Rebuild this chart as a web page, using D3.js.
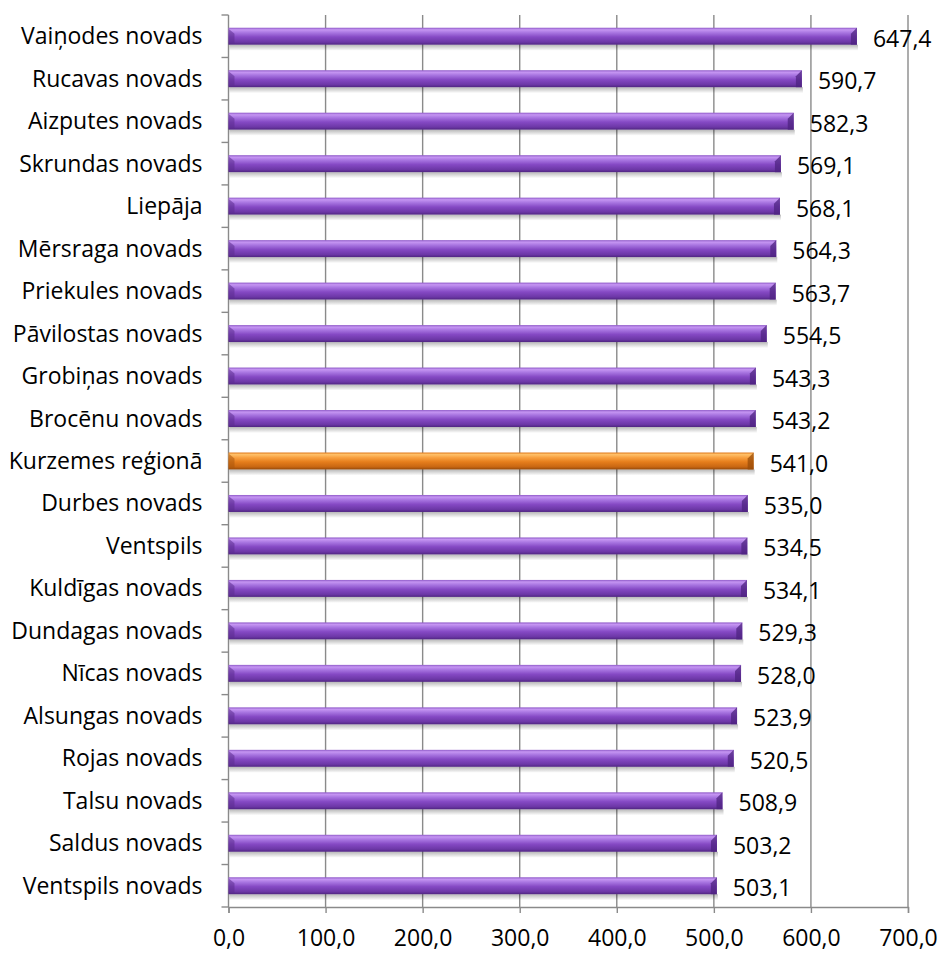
<!DOCTYPE html>
<html>
<head>
<meta charset="utf-8">
<script src="https://cdn.jsdelivr.net/npm/d3@7"></script>
<style>
  body { margin: 0; background: #fff; }
  text { font-family: "Open Sans", "DejaVu Sans", sans-serif; fill: #000; }
</style>
</head>
<body>
<div class="chart"></div>
<script>
var categories = ["Vaiņodes novads", "Rucavas novads", "Aizputes novads", "Skrundas novads",
  "Liepāja", "Mērsraga novads", "Priekules novads", "Pāvilostas novads", "Grobiņas novads",
  "Brocēnu novads", "Kurzemes reģionā", "Durbes novads", "Ventspils", "Kuldīgas novads",
  "Dundagas novads", "Nīcas novads", "Alsungas novads", "Rojas novads", "Talsu novads",
  "Saldus novads", "Ventspils novads"];
var values = [647.4, 590.7, 582.3, 569.1, 568.1, 564.3, 563.7, 554.5, 543.3, 543.2, 541.0,
  535.0, 534.5, 534.1, 529.3, 528.0, 523.9, 520.5, 508.9, 503.2, 503.1];
var highlight = "Kurzemes reģionā";
var xTicks = [0, 100, 200, 300, 400, 500, 600, 700];

var width = 941, height = 953;
var margin = {top: 15, right: 33, bottom: 46, left: 228.5};
var fontSize = 23;

var fmt = d => d.toFixed(1).replace(".", ",");

var svg = d3.select(".chart").append("svg")
  .attr("width", width)
  .attr("height", height);

var defs = svg.append("defs");

function barGradient(id, stops) {
  var g = defs.append("linearGradient").attr("id", id)
    .attr("x1", 0).attr("y1", 0).attr("x2", 0).attr("y2", 1);
  stops.forEach(s => g.append("stop").attr("offset", s[0]).attr("stop-color", s[1]));
}
barGradient("purple", [[0, "#8f5ac8"], [0.12, "#c595f2"], [0.3, "#a774e0"], [0.55, "#8549c4"], [0.85, "#6c37a6"], [1, "#4f2580"]]);
barGradient("orange", [[0, "#e07a1c"], [0.12, "#ffc068"], [0.3, "#f8a040"], [0.55, "#e67e1c"], [0.85, "#c86612"], [1, "#93480a"]]);
barGradient("shadow", [[0, "rgba(0,0,0,0.28)"], [1, "rgba(0,0,0,0)"]]);

var x = d3.scaleLinear()
  .domain([0, 700])
  .range([margin.left, width - margin.right]);

var y = d3.scaleBand()
  .domain(categories)
  .range([margin.top, height - margin.bottom])
  .paddingInner(0.6)
  .paddingOuter(0.3);

// gridlines
svg.append("g")
  .attr("class", "grid")
  .selectAll("line")
  .data(xTicks.slice(1))
  .enter().append("line")
  .attr("x1", d => x(d)).attr("x2", d => x(d))
  .attr("y1", margin.top).attr("y2", height - margin.bottom)
  .style("stroke", "#8a8a8a")
  .style("stroke-width", 1.4);

// x axis
var xAxis = svg.append("g")
  .attr("transform", "translate(0," + (height - margin.bottom) + ")")
  .call(d3.axisBottom(x).tickValues(xTicks).tickFormat(fmt).tickSize(6).tickPadding(17))
  .attr("font-size", fontSize)
  .attr("font-family", "'Open Sans', sans-serif");
xAxis.select(".domain").style("stroke", "#8a8a8a").style("stroke-width", 1.4);
xAxis.selectAll(".tick line").style("stroke", "#8a8a8a").style("stroke-width", 1.4);
xAxis.selectAll(".tick text")
  .style("font-size", fontSize + "px")
  .style("fill", "#000");

// y axis line + ticks at category boundaries
var boundaries = d3.range(categories.length + 1).map(i => margin.top + i * (height - margin.bottom - margin.top) / categories.length);
svg.append("line")
  .attr("x1", margin.left).attr("x2", margin.left)
  .attr("y1", margin.top).attr("y2", height - margin.bottom)
  .style("stroke", "#8a8a8a").style("stroke-width", 1.4);
svg.append("g").selectAll("line")
  .data(boundaries)
  .enter().append("line")
  .attr("x1", margin.left - 7).attr("x2", margin.left)
  .attr("y1", d => d).attr("y2", d => d)
  .style("stroke", "#8a8a8a").style("stroke-width", 1.4);

var bh = y.bandwidth();

// category labels
svg.append("g").selectAll("text")
  .data(categories)
  .enter().append("text")
  .attr("x", margin.left - 26)
  .attr("y", d => y(d) + bh / 2 + 8)
  .style("text-anchor", "end")
  .style("font-size", fontSize + "px")
  .text(d => d);

var rows = categories.map((c, i) => ({name: c, value: values[i]}));

var bars = svg.append("g").selectAll("g")
  .data(rows)
  .enter().append("g");

// soft shadow under bar
bars.append("rect")
  .attr("x", x(0) + 1)
  .attr("y", d => y(d.name) + bh)
  .attr("width", d => x(d.value) - x(0))
  .attr("height", 6)
  .style("fill", "url(#shadow)");

bars.append("rect")
  .attr("x", x(0))
  .attr("y", d => y(d.name))
  .attr("width", d => x(d.value) - x(0))
  .attr("height", bh)
  .style("fill", d => d.name === highlight ? "url(#orange)" : "url(#purple)");

// left bevel
bars.append("path")
  .attr("d", d => "M" + x(0) + "," + (y(d.name) + 1) + "l6,5l0," + (bh - 7) + "l-6,0z")
  .style("fill", d => d.name === highlight ? "#a9560c" : "#5b2b8e")
  .style("opacity", 0.55);

// right bevel
bars.append("path")
  .attr("d", d => "M" + x(d.value) + "," + y(d.name) + "l0," + bh + "l-6,0l0," + (-(bh - 6)) + "z")
  .style("fill", d => d.name === highlight ? "#9a4c08" : "#4e2380")
  .style("opacity", 0.75);

// value labels
bars.append("text")
  .attr("x", d => x(d.value) + 16)
  .attr("y", d => y(d.name) + bh / 2 + 10.5)
  .style("font-size", fontSize + "px")
  .text(d => fmt(d.value));
</script>
</body>
</html>
